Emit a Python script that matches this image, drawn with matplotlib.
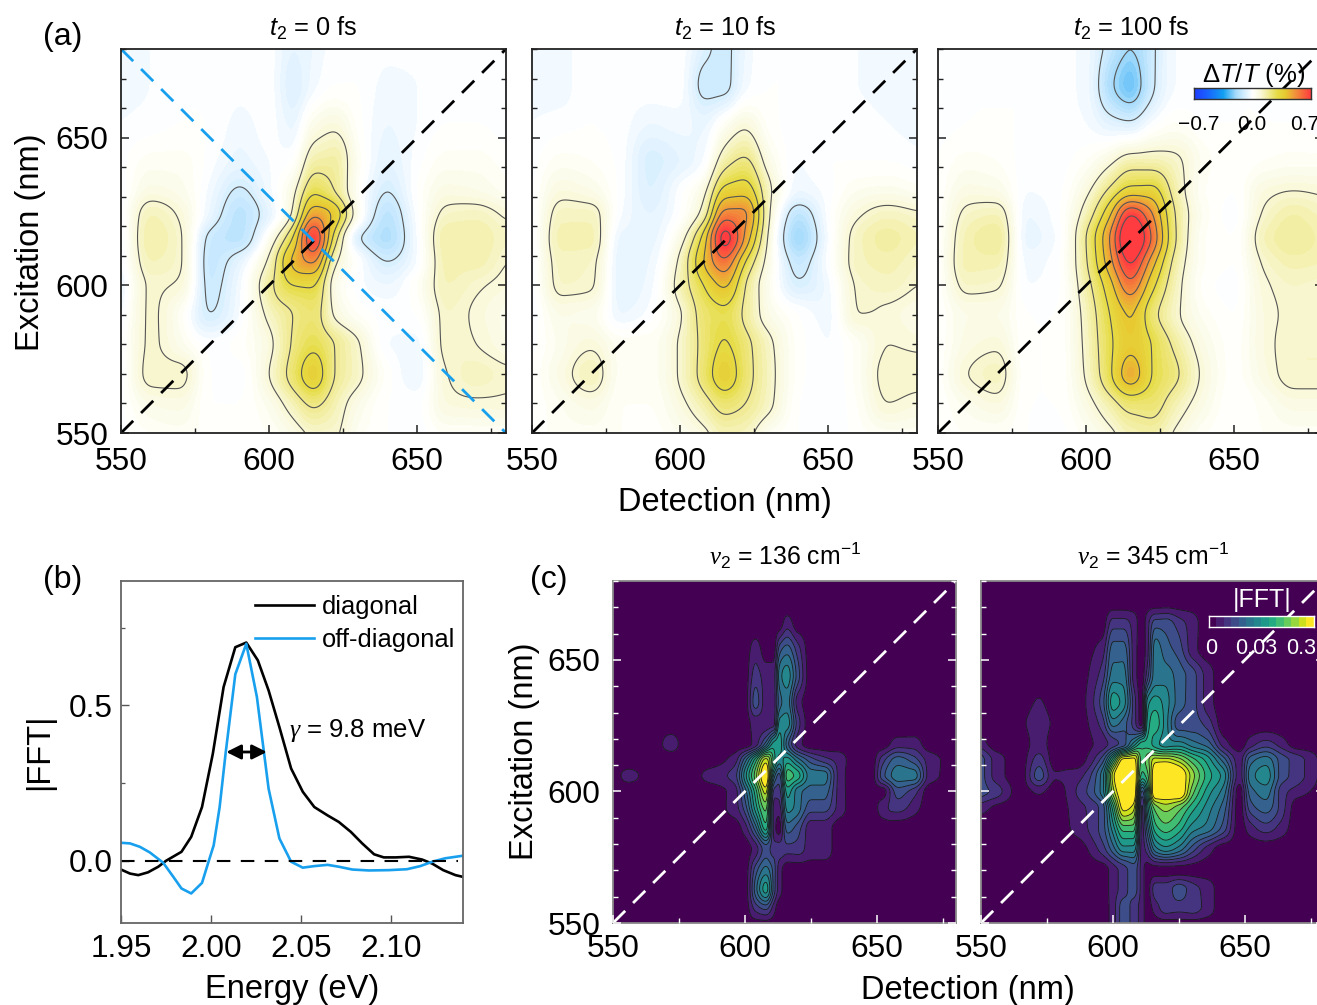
import numpy as np
import matplotlib
matplotlib.use('Agg')
import matplotlib.pyplot as plt
from matplotlib.colors import LinearSegmentedColormap
from matplotlib.ticker import MultipleLocator, FixedLocator

plt.rcParams['font.family'] = ['Liberation Sans', 'DejaVu Sans']
plt.rcParams['mathtext.fontset'] = 'custom'
plt.rcParams['mathtext.rm'] = 'Liberation Sans'
plt.rcParams['mathtext.it'] = 'Liberation Sans:italic'
plt.rcParams['mathtext.bf'] = 'Liberation Serif:italic'

# ---------- data ----------
det_a = [550,560,570,580,590,600,608,615,622,630,640,650,660,670,680]
exc_a = [550,560,570,580,590,600,608,616,624,632,642,655,668,680]
# Delta T/T in 0.01 % units, rows from low to high excitation
map_0fs = [
 [-1,2,3,1,0,2,6,11,11,3,0,-1,2,2,2],
 [-1,6,7,0,0,5,14,22,15,6,0,-1,8,9,9],
 [-2,12,12,0,-1,10,24,36,20,12,1,-4,10,13,11],
 [-1,11,5,-1,1,8,21,28,20,11,-2,-3,12,10,6],
 [-3,11,3,-10,-2,12,20,24,9,2,-1,0,12,9,5],
 [-5,11,9,-12,-3,17,30,31,6,-1,-4,2,14,11,8],
 [-3,14,11,-13,-6,12,42,52,12,0,-10,-2,15,15,10],
 [-3,16,11,-12,-15,3,30,70,26,-9,-17,-2,16,16,12],
 [-2,14,9,-5,-15,-6,11,48,38,4,-15,-1,12,13,9],
 [-2,7,5,-3,-11,-3,7,28,20,2,-10,0,7,6,3],
 [-1,3,3,-1,-5,-2,0,16,17,3,-6,-1,3,3,1],
 [-2,-1,0,0,-3,-1,-5,5,8,1,-4,-2,0,0,-1],
 [-3,-2,0,0,-1,-1,-8,-3,0,0,-3,-2,-1,-1,-1],
 [-3,-2,0,0,0,-1,-6,-4,-1,0,-1,-1,-1,-1,0],
]
map_10fs = [
 [0,3,3,2,1,4,8,14,13,3,0,-2,1,3,3],
 [0,4,7,2,2,8,16,24,20,12,0,-2,2,10,8],
 [0,7,14,3,3,11,24,36,24,13,1,-2,3,12,12],
 [-1,5,9,3,3,11,23,31,23,12,1,-2,3,10,9],
 [-2,6,5,-4,-1,9,24,28,18,6,0,-3,10,9,6],
 [-2,12,11,-6,-3,14,30,42,20,4,-9,-3,11,13,10],
 [-2,13,12,-6,-4,12,40,58,30,6,-13,-1,13,15,12],
 [-2,15,15,-5,-5,6,34,75,48,8,-20,-2,13,17,14],
 [-2,13,13,-2,-6,0,14,55,52,11,-15,-1,9,13,11],
 [-1,8,6,-1,-8,-1,7,34,36,12,-4,-1,4,5,3],
 [-1,3,2,-1,-9,-6,-2,16,22,6,-2,0,0,0,-1],
 [-2,-1,0,-1,-4,-3,-5,2,8,1,-1,-1,-1,-2,-3],
 [-3,-3,0,-1,-1,-1,-12,-12,-3,0,0,-1,-2,-3,-3],
 [-3,-3,0,-1,-1,-1,-8,-12,-4,0,0,-1,-2,-3,-3],
]
map_100fs = [
 [0,2,2,0,-1,3,8,14,16,9,2,0,2,3,3],
 [0,5,8,0,0,7,16,24,24,15,6,0,3,7,7],
 [0,10,13,0,0,11,28,46,30,22,8,1,7,12,12],
 [0,7,9,0,0,12,28,38,30,18,6,1,8,12,12],
 [0,6,6,0,0,13,30,41,24,12,3,0,8,11,10],
 [0,12,11,-2,-1,16,36,57,34,14,1,-1,9,12,11],
 [0,15,15,-3,-1,19,46,72,46,17,2,0,11,15,14],
 [0,15,18,-5,-2,20,50,85,60,21,2,0,14,18,15],
 [0,12,14,-4,-1,14,38,70,52,20,3,-1,11,16,13],
 [0,7,6,-2,-1,8,22,34,34,16,2,0,8,10,9],
 [0,3,2,-1,-1,2,8,15,15,12,3,0,2,3,3],
 [-1,0,0,0,-1,-2,-7,-9,-2,2,0,0,0,0,-1],
 [-2,0,0,0,-1,-3,-18,-26,-12,-2,-1,0,0,-1,-1],
 [-1,0,0,0,-1,-3,-13,-20,-12,-2,-1,0,0,-1,-1],
]

det_c = [550,556,565,572,578,586,596,600,604,608,611,613,616,620,625,630,636,642,648,652,658,664,670,680]
exc_c = [550,556,563,570,578,586,594,600,606,612,618,626,634,644,654,664,672,680]
# |FFT| as colour-band index of the logarithmic scale (0 = darkest, 13 = brightest)
band_136 = [
 [0]*24,
 [0,0,0,0,0,0,0,0,2,3,1,0,0,0,0,0,0,0,0,0,0,0,0,0],
 [0,0,0,0,0,0,0,0,4,7,3,1,0,0,0,0,0,0,0,0,0,0,0,0],
 [0,0,0,0,0,0,0,0,3,5,3,1,0,0,0,0,0,0,0,0,0,0,0,0],
 [0,0,0,0,0,0,0,0,1,3,2,2,2,2,1,1,0,0,0,0,0,0,0,0],
 [0,0,0,0,0,0,0,1,4,8,1,0,4,3,1,1,0,0,0,0,0,0,0,0],
 [0,0,0,0,0,0,1,3,7,10,1,1,6,5,3,3,1,0,0,1,2,1,0,0],
 [0,0,0,0,0,0,1,4,8,12,2,2,7,5,4,4,1,0,0,0,3,2,0,0],
 [0,0.8,0,0,0,0.8,2,6,10,14,5,3,9,8,5,5,1,0,0,3,5,5,1,0],
 [0,0,0,0,0,0,1,4,8,12,8,6,7,5,3,2,1,0,0,2,4,3,1,0],
 [0,0,0,0.9,0,0,0,0,1,4,7,7,4,1,0,0,0,0,0,0,1,1,0,0],
 [0,0,0,0,0,0,0,0,1,1,1,6,6,2,0,0,0,0,0,0,0,0,0,0],
 [0,0,0,0,0,0,0,0,3,1,1,4,5,1,0,0,0,0,0,0,0,0,0,0],
 [0,0,0,0,0,0,0,0,2,1,1,5,6,3,0,0,0,0,0,0,0,0,0,0],
 [0,0,0,0,0,0,0,0,1,0,0,3,4,2,0,0,0,0,0,0,0,0,0,0],
 [0,0,0,0,0,0,0,0,0,0,0,0,1,0,0,0,0,0,0,0,0,0,0,0],
 [0]*24,
 [0]*24,
]
band_345 = [
 [0,0,0,0,0,0,0,1,3,2,1,0,0,0,0,0,0,0,0,0,0,0,0,0],
 [0,0,0,0,0,0,0,1,3,2,1,0,1,2,2,2,1,0,0,0,0,0,0,0],
 [0,0,0,0,0,0,0,1,2,3,1,0,2,2,3,2,1,0,0,0,0,0,0,0],
 [0,0,0,0,0,0,0,1,2,3,1,0,0,0,0,0,0,0,0,0,0,0,0,0],
 [0,0,0,0,0,0,2,4,6,6,1,2,5,6,5,3,1,0,0,0,0,0,0,0],
 [0,0,0,0,0,0.8,3,6,9,9,1,4,8,9,8,6,5,3,0,1,2,1,0,0],
 [1,0.3,0,0,0,1,3,8,13,12,1,6,10,11,10,8,6,4,0,3,4,2,0,0],
 [3,2,0,0.7,0,1.5,5,11,14,14,3,7,14,14,14,10,7,5,0,4,5,2,1,0],
 [3,1,0,3,0.6,1,5,12,15,14,8,9,14,15,14,11,8,6,1,5,6,3,2,0],
 [3,1,0,2,0,0,3,8,13,13,9,10,12,12,11,9,7,4,1,4,5,3,2,0],
 [1,0,0,1,0,0,1,2,3,6,8,8,7,6,6,5,4,1,0,1,2,1,0,0],
 [0,0,0.3,1,0.3,0,2,5,4,2,0,7,8,6,3,3,2,0,0,0,0,0,0,0],
 [0,0,0,0.6,0,0,3,7,6,2,0,6,7,6,4,3,1,0,0,0,0,0,0,0],
 [0,0,0,0,0,0,2,5,5,1,0,2,5,5,4,3,1,0,0,0,0,0,0,0],
 [0,0,0,0,0,0,1,4,4,1,0,1,5,4,3,1,0,0,0,0,0,0,0,0],
 [0,0,0,0,0,0,0,2,2,1,0,1,3,3,2,1,0,0,0,0,0,0,0,0],
 [0]*24,
 [0]*24,
]

energy_diag = [1.950,1.955,1.9596,1.965,1.9707,1.975,1.9836,1.989,1.995,2.001,2.007,2.0135,2.0196,2.026,2.032,2.038,2.0445,2.051,2.0574,2.0648,2.071,2.0777,2.084,2.0906,2.096,2.1026,2.110,2.1173,2.1229,2.129,2.1358,2.1395]
fft_diag = [-0.028,-0.041,-0.046,-0.037,-0.019,0.0,0.029,0.077,0.173,0.344,0.559,0.687,0.702,0.645,0.548,0.43,0.297,0.222,0.173,0.146,0.125,0.093,0.056,0.021,0.011,0.011,0.013,0.004,-0.009,-0.03,-0.046,-0.051]
energy_off = [1.950,1.955,1.9605,1.966,1.9734,1.979,1.9836,1.989,1.995,1.9989,2.0015,2.0048,2.0081,2.0135,2.0196,2.0255,2.032,2.038,2.0445,2.051,2.0574,2.0648,2.071,2.0785,2.0877,2.0987,2.1089,2.1163,2.1229,2.130,2.1395]
fft_off = [0.058,0.056,0.045,0.027,-0.006,-0.051,-0.089,-0.105,-0.071,0.002,0.05,0.173,0.345,0.6,0.698,0.527,0.232,0.072,-0.003,-0.022,-0.017,-0.013,-0.019,-0.028,-0.031,-0.03,-0.027,-0.017,-0.003,0.008,0.016]

titles_a = [r'$t_2$ = 0 fs', r'$t_2$ = 10 fs', r'$t_2$ = 100 fs']
titles_c = [r'$\mathbf{\nu}_2$ = 136 cm$^{-1}$', r'$\mathbf{\nu}_2$ = 345 cm$^{-1}$']
ticks_nm = [550, 600, 650]

# ---------- helpers ----------
W, H = 1317, 1005
fig = plt.figure(figsize=(W/100, H/100), dpi=100, facecolor='white')

def ax_px(l, t, r, b, **kw):
    return fig.add_axes([l/W, 1-b/H, (r-l)/W, (b-t)/H], **kw)

def txt(x, y, s, **kw):
    kw.setdefault('ha', 'center'); kw.setdefault('va', 'center')
    return fig.text(x/W, 1-y/H, s, **kw)

def pchip(x, y, xi):
    x = np.asarray(x, float); y = np.asarray(y, float)
    h = np.diff(x); d = np.diff(y)/h
    m = np.zeros_like(y)
    for i in range(1, len(x)-1):
        if d[i-1]*d[i] > 0:
            w1, w2 = 2*h[i]+h[i-1], h[i]+2*h[i-1]
            m[i] = (w1+w2)/(w1/d[i-1]+w2/d[i])
    m[0], m[-1] = d[0], d[-1]
    k = np.clip(np.searchsorted(x, xi)-1, 0, len(h)-1)
    t = (xi-x[k])/h[k]
    return ((2*t**3-3*t**2+1)*y[k]+(t**3-2*t**2+t)*h[k]*m[k]
            +(-2*t**3+3*t**2)*y[k+1]+(t**3-t**2)*h[k]*m[k+1])

def blur(a, sig, step):
    n = int(4*sig/step)
    g = np.exp(-0.5*(np.arange(-n, n+1)*step/sig)**2); g /= g.sum()
    f = lambda v: np.convolve(np.pad(v, n, mode='edge'), g, mode='valid')
    return np.apply_along_axis(f, 1, np.apply_along_axis(f, 0, a))

def fine_map(grid, xs, ys, sig):
    step = 0.25
    xf = np.arange(550, 680.01, step); yf = np.arange(550, 680.01, step)
    a = np.array(grid, float)
    a = np.apply_along_axis(lambda v: pchip(xs, v, xf), 1, a)
    a = np.apply_along_axis(lambda v: pchip(ys, v, yf), 0, a)
    return xf, yf, blur(a, sig, step)

def style_map(ax, col, frame, left_labels, xpad, ypad):
    ax.set_xlim(550, 680); ax.set_ylim(550, 680); ax.set_aspect('auto')
    ax.xaxis.set_major_locator(FixedLocator(ticks_nm))
    ax.xaxis.set_minor_locator(FixedLocator([575, 625, 675]))
    ax.yaxis.set_major_locator(FixedLocator(ticks_nm))
    ax.yaxis.set_minor_locator(MultipleLocator(10))
    ax.tick_params(which='major', direction='in', length=6, width=1.1, color=col,
                   labelsize=22.8, right=True, labelcolor='black')
    ax.tick_params(which='minor', direction='in', length=3.5, width=1.0, color=col, right=True)
    ax.tick_params(axis='x', which='major', pad=xpad)
    ax.tick_params(axis='y', which='major', pad=ypad, labelleft=left_labels)
    for s in ax.spines.values():
        s.set_color(frame); s.set_linewidth(1.3)
    ax.set_axisbelow(False)

# ---------- panel (a) ----------
cmap_dt = LinearSegmentedColormap.from_list('dt', [
    (0.0, '#1f3cff'), (1.5/14, '#1a60ff'), (3.5/14, '#12a0f2'), (5/14, '#a5dbfb'), (6/14, '#d5eeff'),
    (6.7/14, '#f3faff'), (7/14, '#ffffff'), (7.3/14, '#fefef5'), (8/14, '#f9f8d8'), (9/14, '#f0ea90'),
    (10/14, '#e6dc45'), (11/14, '#e8c830'), (12/14, '#f0983a'), (13/14, '#f66a3c'), (1.0, '#ff3c40')])

levels_fill = np.linspace(-70, 70, 71)
levels_line = [-30, -20, -10, 10, 20, 30, 40, 50, 60, 70]
lefts = [121, 532, 938]
maps_a = [map_0fs, map_10fs, map_100fs]
title_x = [313, 725, 1131]
for i in range(3):
    ax = ax_px(lefts[i], 49, lefts[i]+385, 433)
    xf, yf, z = fine_map(maps_a[i], det_a, exc_a, 1.2)
    ax.contourf(xf, yf, z, levels=levels_fill, cmap=cmap_dt, extend='both')
    ax.contour(xf, yf, z, levels=levels_line, colors='#555555', linewidths=0.8, linestyles='solid')
    ax.plot([550, 680], [550, 680], color='black', lw=2.0, ls=(0, (6.2, 4.0)))
    if i == 0:
        ax.plot([550, 680], [680, 550], color='#18a0ee', lw=2.0, ls=(0, (6.2, 4.0)))
    style_map(ax, '#222222', '#222222', i == 0, 10, 9)
    txt(title_x[i], 28, titles_a[i], fontsize=18.3)

txt(63, 37, '(a)', fontsize=23)
txt(31, 242, 'Excitation (nm)', fontsize=23.5, rotation=90)
txt(725, 502, 'Detection (nm)', fontsize=23.5)

cax = ax_px(1194, 88, 1311, 99)
cax.imshow(np.linspace(0, 1, 256)[None, :], aspect='auto', cmap=cmap_dt)
cax.set_xticks([]); cax.set_yticks([])
for s in cax.spines.values():
    s.set_color('#333333'); s.set_linewidth(1.0)
txt(1254, 75, r'$\Delta T/T$ (%)', fontsize=18.5)
for x, s in zip([1199, 1252, 1305], ['\u22120.7', '0.0', '0.7']):
    txt(x, 124, s, fontsize=15)

# ---------- panel (b) ----------
axb = ax_px(121, 581, 463, 923)
axb.plot(energy_diag, fft_diag, color='black', lw=1.9, label='diagonal')
axb.plot(energy_off, fft_off, color='#18a0ee', lw=1.9, label='off-diagonal')
axb.plot([1.95, 2.137], [0, 0], color='black', lw=1.5, ls=(0, (6.5, 5)))
axb.set_xlim(1.95, 2.14); axb.set_ylim(-0.2, 0.9)
axb.set_xticks([1.95, 2.00, 2.05, 2.10]); axb.set_xticklabels(['1.95', '2.00', '2.05', '2.10'])
axb.set_yticks([0.0, 0.5]); axb.set_yticklabels(['0.0', '0.5'])
axb.set_yticks([0.25, 0.75], minor=True)
axb.tick_params(which='major', direction='in', length=6, width=1.0, color='#555555', labelsize=22.8, pad=8)
axb.tick_params(which='minor', direction='in', length=3, width=0.9, color='#555555')
axb.tick_params(axis='y', which='major', pad=6)
for s in axb.spines.values():
    s.set_color('#666666'); s.set_linewidth(1.3)
axb.annotate('', xy=(2.0085, 0.35), xytext=(2.0310, 0.35),
             arrowprops=dict(arrowstyle='<|-|>', color='black', lw=2, mutation_scale=22, shrinkA=0, shrinkB=0))
axb.legend(loc='upper left', bbox_to_anchor=(0.393, 0.958), frameon=False, fontsize=18.4,
           handlelength=2.3, handletextpad=0.3, labelspacing=0.32, borderpad=0, borderaxespad=0)
txt(358, 731, r'$\mathbf{\gamma}$ = 9.8 meV', fontsize=18.5)
txt(63, 580, '(b)', fontsize=23)
txt(40, 752, '|FFT|', fontsize=23.5, rotation=90)
txt(292, 989, 'Energy (eV)', fontsize=23.5)

# ---------- panel (c) ----------
cmap_v = plt.get_cmap('viridis')
band_edges = np.arange(-0.5, 13.0, 1.0)
lefts_c = [613, 981]
bands = [band_136, band_345]
title_cx = [785, 1153]
for i in range(2):
    ax = ax_px(lefts_c[i], 581, lefts_c[i]+343, 923)
    xf, yf, z = fine_map(bands[i], det_c, exc_c, 0.4)
    ax.contourf(xf, yf, z, levels=band_edges, cmap=cmap_v, vmin=0, vmax=13, extend='max')
    ax.contour(xf, yf, z, levels=band_edges[1:], colors='#1a1a1a', linewidths=0.6, linestyles='solid')
    ax.plot([550, 680], [550, 680], color='white', lw=2.0, ls=(0, (6.2, 4.0)))
    style_map(ax, 'white', '#888888', i == 0, 8, 9)
    ax.tick_params(which='both', color='white')
    txt(title_cx[i], 556, titles_c[i], fontsize=17.8)

txt(549, 580, '(c)', fontsize=23)
txt(524, 751, 'Excitation (nm)', fontsize=23.5, rotation=90)
txt(968, 990, 'Detection (nm)', fontsize=23.5)

cax2 = ax_px(1209, 616, 1314, 627)
cax2.imshow(np.arange(14)[None, :], aspect='auto', cmap=cmap_v, interpolation='nearest')
cax2.set_xticks([]); cax2.set_yticks([])
for s in cax2.spines.values():
    s.set_color('white'); s.set_linewidth(1.0)
txt(1262, 600, '|FFT|', fontsize=18, color='white')
for x, s in zip([1211, 1256, 1301], ['0', '0.03', '0.3']):
    txt(x, 649, s, fontsize=15.5, color='white')

fig.savefig('out.png', dpi=100)
